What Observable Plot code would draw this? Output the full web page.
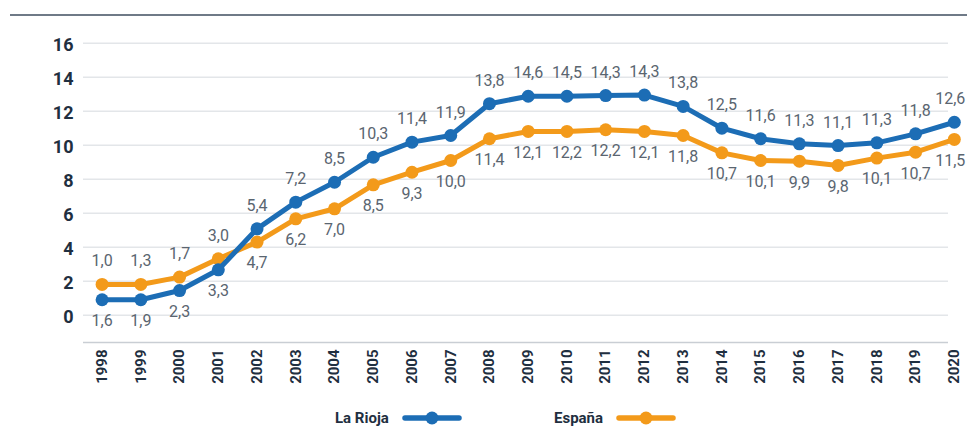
<!DOCTYPE html>
<html>
<head>
<meta charset="utf-8">
<script src="https://cdn.jsdelivr.net/npm/d3@7"></script>
<script src="https://cdn.jsdelivr.net/npm/@observablehq/plot@0.6"></script>
<style>
  html, body { margin: 0; padding: 0; background: #fff; }
  #wrap { position: relative; width: 967px; height: 441px; overflow: hidden; font-family: Roboto, "Noto Sans", sans-serif; }
  #topline { position: absolute; top: 14px; left: 10px; right: 0; border-top: 2px solid #6f7a87; z-index: 2; }
  #chart { position: absolute; top: 0; left: 0; }
  #chart svg { overflow: visible; }
  .leg { position: absolute; top: 407px; height: 22px; display: flex; align-items: center; font-weight: 700; font-size: 15px; color: #1f2f40; }
  .leg svg { margin-left: 12px; }
</style>
</head>
<body>
<div id="wrap">
  <div id="chart"></div>
  <div id="topline"></div>
  <div class="leg" style="left:335px">La Rioja<svg width="62" height="16"><line x1="4" y1="8" x2="58" y2="8" stroke="#1c6db5" stroke-width="5.5" stroke-linecap="round"/><circle cx="31" cy="8" r="6.5" fill="#1c6db5"/></svg></div>
  <div class="leg" style="left:554px">España<svg width="62" height="16"><line x1="4" y1="8" x2="58" y2="8" stroke="#f39a1a" stroke-width="5.5" stroke-linecap="round"/><circle cx="31" cy="8" r="6.5" fill="#f39a1a"/></svg></div>
</div>
<script>
// Years (categories)
const years = [1998,1999,2000,2001,2002,2003,2004,2005,2006,2007,2008,2009,2010,2011,2012,2013,2014,2015,2016,2017,2018,2019,2020];

// Plotted positions of each series, read against the y axis
const riojaValues  = [0.91,0.91,1.45,2.67,5.08,6.65,7.82,9.29,10.18,10.57,12.44,12.88,12.88,12.92,12.95,12.28,11.00,10.38,10.08,9.98,10.14,10.67,11.35];
const espanaValues = [1.81,1.81,2.24,3.32,4.30,5.67,6.26,7.67,8.41,9.10,10.38,10.81,10.81,10.91,10.81,10.57,9.55,9.10,9.06,8.81,9.24,9.59,10.34];

// Data labels printed on the chart
const riojaLabels  = ["1,0","1,3","1,7","3,0","5,4","7,2","8,5","10,3","11,4","11,9","13,8","14,6","14,5","14,3","14,3","13,8","12,5","11,6","11,3","11,1","11,3","11,8","12,6"];
const espanaLabels = ["1,6","1,9","2,3","3,3","4,7","6,2","7,0","8,5","9,3","10,0","11,4","12,1","12,2","12,2","12,1","11,8","10,7","10,1","9,9","9,8","10,1","10,7","11,5"];

// Axis
const yTicks = [0,2,4,6,8,10,12,14,16];
const yMin = -1.6, yMax = 16;

const seriesNames = ["La Rioja", "España"];
const seriesColors = ["#1c6db5", "#f39a1a"];

const rioja = years.map((x, i) => ({x, y: riojaValues[i]}));
const espana = years.map((x, i) => ({x, y: espanaValues[i]}));
const topLabels = years.map((x, i) => ({x, y: Math.max(riojaValues[i], espanaValues[i]), t: riojaLabels[i]}));
const bottomLabels = years.map((x, i) => ({x, y: Math.min(riojaValues[i], espanaValues[i]), t: espanaLabels[i]}));
const last = years.length - 1;
const labelStyle = {x: "x", y: "y", text: "t", fontSize: 16, fill: "#5a6570"};

const chart = Plot.plot({
  width: 967,
  height: 395,
  marginLeft: 83,
  marginRight: 19,
  marginTop: 42.7,
  marginBottom: 53.1,
  style: {background: "transparent", fontFamily: "Roboto, 'Noto Sans', sans-serif", overflow: "visible"},
  x: {domain: [1997.52, 2019.85], ticks: years, tickFormat: d => String(d), tickRotate: -90, tickSize: 0, tickPadding: 7, label: null},
  y: {domain: [yMin, yMax], ticks: yTicks, tickSize: 0, tickPadding: 10, label: null},
  marks: [
    Plot.ruleY(yTicks, {stroke: "#e3e6e9", strokeWidth: 1.6}),
    Plot.ruleY([yMin], {stroke: "#c9ced4", strokeWidth: 1.5}),
    Plot.axisY({ticks: yTicks, tickSize: 0, tickPadding: 10, fontSize: 18, fontWeight: 700, fill: "#1f2f40", dy: 2, label: null}),
    Plot.axisX({ticks: years, tickFormat: d => String(d), tickRotate: -90, tickSize: 0, tickPadding: 7, fontSize: 15, fontWeight: 700, fill: "#1f2f40", label: null}),
    Plot.line(espana, {x: "x", y: "y", stroke: seriesColors[1], strokeWidth: 5, strokeLinejoin: "round", strokeLinecap: "round"}),
    Plot.dot(espana, {x: "x", y: "y", r: 6.5, fill: seriesColors[1]}),
    Plot.line(rioja, {x: "x", y: "y", stroke: seriesColors[0], strokeWidth: 5, strokeLinejoin: "round", strokeLinecap: "round"}),
    Plot.dot(rioja, {x: "x", y: "y", r: 6.5, fill: seriesColors[0]}),
    Plot.text(topLabels.slice(0, last), {...labelStyle, lineAnchor: "bottom", dy: -18}),
    Plot.text(bottomLabels.slice(0, last), {...labelStyle, lineAnchor: "top", dy: 15}),
    Plot.text(topLabels.slice(last), {...labelStyle, lineAnchor: "bottom", dy: -18, textAnchor: "end", dx: 11}),
    Plot.text(bottomLabels.slice(last), {...labelStyle, lineAnchor: "top", dy: 15, textAnchor: "end", dx: 11})
  ]
});
document.getElementById("chart").appendChild(chart);
</script>
</body>
</html>
